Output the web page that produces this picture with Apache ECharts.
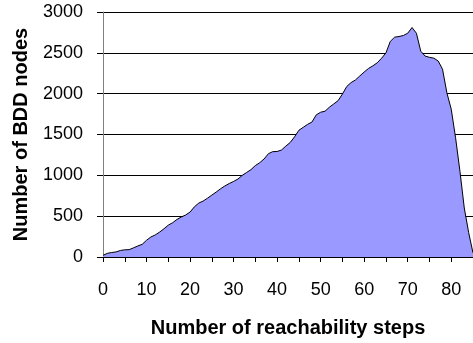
<!DOCTYPE html>
<html>
<head>
<meta charset="utf-8">
<script src="https://cdn.jsdelivr.net/npm/echarts@6/dist/echarts.min.js"></script>
<style>
  html, body { margin: 0; padding: 0; background: #fff; }
  #chart { width: 473px; height: 343px; }
</style>
</head>
<body>
<div id="chart"></div>
<script>
// reachability step index 0..85
var steps = [];
for (var s = 0; s <= 85; s++) steps.push(String(s));

// BDD node counts, one per step
var nodes = [
  20, 45, 55, 62, 80, 88, 90, 112, 135, 155,
  205, 245, 270, 305, 345, 390, 420, 460, 490, 515,
  550, 615, 660, 685, 720, 758, 795, 835, 870, 900,
  925, 955, 1000, 1035, 1070, 1120, 1155, 1200, 1265, 1290,
  1292, 1310, 1358, 1402, 1471, 1552, 1588, 1624, 1652, 1741,
  1773, 1785, 1834, 1874, 1914, 1995, 2088, 2136, 2168, 2217,
  2265, 2309, 2341, 2378, 2434, 2499, 2640, 2692, 2700, 2712,
  2740, 2810, 2740, 2520, 2460, 2445, 2435, 2400, 2300, 2010,
  1810, 1460, 1050, 600, 300, 50
];

var chartDiv = document.getElementById('chart');
var nodesChart = echarts.init(chartDiv);

var font = 'Liberation Sans, Arial, sans-serif';

option = {
  animation: false,
  grid: {
    left: 103,
    right: 0,
    top: 12,
    bottom: 83
  },
  xAxis: {
    type: 'category',
    data: steps,
    boundaryGap: false,
    name: 'Number of reachability steps',
    nameLocation: 'middle',
    nameGap: 61,
    nameTextStyle: { fontFamily: font, fontSize: 20, fontWeight: 'bold', color: '#000' },
    axisLine: { lineStyle: { color: '#000', width: 1 } },
    axisTick: { interval: 4, length: 5, lineStyle: { color: '#000' } },
    axisLabel: { interval: 9, margin: 24, fontFamily: font, fontSize: 18, color: '#000' },
    splitLine: { show: false }
  },
  yAxis: {
    type: 'value',
    min: 0,
    max: 3000,
    interval: 500,
    name: 'Number of BDD nodes',
    nameLocation: 'middle',
    nameGap: 72,
    nameTextStyle: { fontFamily: font, fontSize: 20, fontWeight: 'bold', color: '#000' },
    axisLine: { show: true, lineStyle: { color: '#808080' } },
    axisTick: { show: true, inside: false, length: 6, lineStyle: { color: '#000' } },
    axisLabel: {
      margin: 20, fontFamily: font, fontSize: 18, color: '#000',
      formatter: function (v) { return String(v); }
    },
    splitLine: { lineStyle: { color: '#000', width: 1 } }
  },
  series: [
    {
      name: 'BDD nodes',
      type: 'line',
      data: nodes,
      symbol: 'none',
      lineStyle: { color: '#000', width: 1 },
      areaStyle: { color: '#9999FF', opacity: 1 }
    }
  ]
};

nodesChart.setOption(option);
</script>
</body>
</html>
